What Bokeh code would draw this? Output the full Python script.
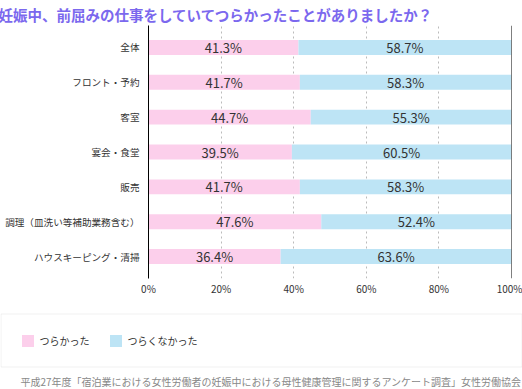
from bokeh.plotting import figure
from bokeh.models import (FactorRange, Range1d, ColumnDataSource, LabelSet, Label, Span,
                          BoxAnnotation, Legend, LegendItem, FixedTicker, PrintfTickFormatter)
from bokeh.core.properties import value
from bokeh.embed import file_html
from bokeh.resources import INLINE

title_text = "妊娠中、前屈みの仕事をしていてつらかったことがありましたか？"
source_text = "平成27年度「宿泊業における女性労働者の妊娠中における母性健康管理に関するアンケート調査」女性労働協会"
categories = ["全体", "フロント・予約", "客室", "宴会・食堂", "販売", "調理（皿洗い等補助業務含む）", "ハウスキーピング・清掃"]
tsurakatta = [41.3, 41.7, 44.7, 39.5, 41.7, 47.6, 36.4]
tsurakunakatta = [58.7, 58.3, 55.3, 60.5, 58.3, 52.4, 63.6]
series_names = ["つらかった", "つらくなかった"]
x_ticks = [0, 20, 40, 60, 80, 100]

PINK = "#fccfeb"
BLUE = "#bde4f5"
FONT = "Noto Sans CJK JP"
TXT = "#333333"

src = ColumnDataSource(dict(
    cat=categories,
    zero=[0] * len(categories),
    a_end=tsurakatta,
    b_end=[x + y for x, y in zip(tsurakatta, tsurakunakatta)],
    a_mid=[x / 2 for x in tsurakatta],
    b_mid=[x + y / 2 for x, y in zip(tsurakatta, tsurakunakatta)],
    a_lbl=[f"{v:.1f}%" for v in tsurakatta],
    b_lbl=[f"{v:.1f}%" for v in tsurakunakatta],
))

# ---------------- main chart ----------------
p = figure(width=522, height=300, output_backend="svg", toolbar_location=None,
           y_range=FactorRange(factors=list(reversed(categories)), range_padding=0.0367),
           x_range=Range1d(0, 100),
           min_border_left=148, min_border_right=11, min_border_top=24, min_border_bottom=22)
p.outline_line_color = None

p.title.text = title_text
p.title.align = "left"
p.title.offset = -150
p.title.standoff = 2
p.title.vertical_align = "bottom"
p.title.text_font = FONT
p.title.text_font_size = "14.5px"
p.title.text_font_style = "bold"
p.title.text_color = "#7b68ee"

h = 15 / 35
r1 = p.hbar(y="cat", left="zero", right="a_end", height=h, source=src, fill_color=PINK, line_color=None)
r2 = p.hbar(y="cat", left="a_end", right="b_end", height=h, source=src, fill_color=BLUE, line_color=None)

for xcol, tcol in (("a_mid", "a_lbl"), ("b_mid", "b_lbl")):
    p.add_layout(LabelSet(x=xcol, y="cat", text=tcol, source=src, text_align="center",
                          text_baseline="middle", text_font=value(FONT), text_font_size="13px",
                          text_color=TXT))

ya = p.yaxis[0]
ya.axis_line_color = "black"
ya.major_tick_line_color = None
ya.minor_tick_line_color = None
ya.major_tick_out = 0
ya.major_tick_in = 0
ya.major_label_standoff = 9
ya.major_label_text_font = FONT
ya.major_label_text_font_size = "9.6px"
ya.major_label_text_color = TXT
p.ygrid.visible = False

xa = p.xaxis[0]
xa.ticker = FixedTicker(ticks=x_ticks)
xa.formatter = PrintfTickFormatter(format="%d%%")
xa.axis_line_color = None
xa.major_tick_line_color = None
xa.minor_tick_line_color = None
xa.major_tick_out = 0
xa.major_tick_in = 0
xa.major_label_standoff = 2
xa.major_label_text_font = FONT
xa.major_label_text_font_size = "10px"
xa.major_label_text_color = TXT

p.xgrid.ticker = FixedTicker(ticks=x_ticks[1:-1])
p.xgrid.grid_line_color = "#bbbbbb"
p.xgrid.grid_line_dash = "2 3"

p.add_layout(Span(location=100, dimension="height", line_color="black", line_width=1))

# ---------------- legend + source ----------------
q = figure(width=522, height=89, output_backend="svg", toolbar_location=None,
           x_range=Range1d(0, 1), y_range=Range1d(0, 1),
           x_axis_location=None, y_axis_location=None,
           min_border_left=0, min_border_right=0, min_border_top=0, min_border_bottom=0)
q.outline_line_color = None
q.grid.visible = False

q.add_layout(BoxAnnotation(left=0.5, right=521.5, top=75.5, bottom=22.5,
                           left_units="screen", right_units="screen", top_units="screen", bottom_units="screen",
                           fill_alpha=0, line_color="#cccccc", line_width=1))

# legend swatches (kept outside the visible range, only used by the legend)
d1 = q.hbar(y=[-5], right=[1], height=1, fill_color=PINK, line_color=None)
d2 = q.hbar(y=[-5], right=[1], height=1, fill_color=BLUE, line_color=None)
legend = Legend(items=[LegendItem(label=series_names[0], renderers=[d1]),
                       LegendItem(label=series_names[1], renderers=[d2])],
                orientation="horizontal", location=(19.5, 41.5),
                border_line_color=None, background_fill_alpha=0,
                glyph_width=15, glyph_height=15, label_height=15, label_standoff=5,
                spacing=18, padding=0, margin=0,
                label_text_font=FONT, label_text_font_size="10px", label_text_color=TXT)
q.add_layout(legend, "center")

q.add_layout(Label(x=521, y=8, x_units="screen", y_units="screen", text=source_text,
                   text_font=FONT, text_font_size="10px", text_color="#888888",
                   text_baseline="middle", text_align="right"))

open("out.html", "w").write(file_html([p, q], INLINE))
